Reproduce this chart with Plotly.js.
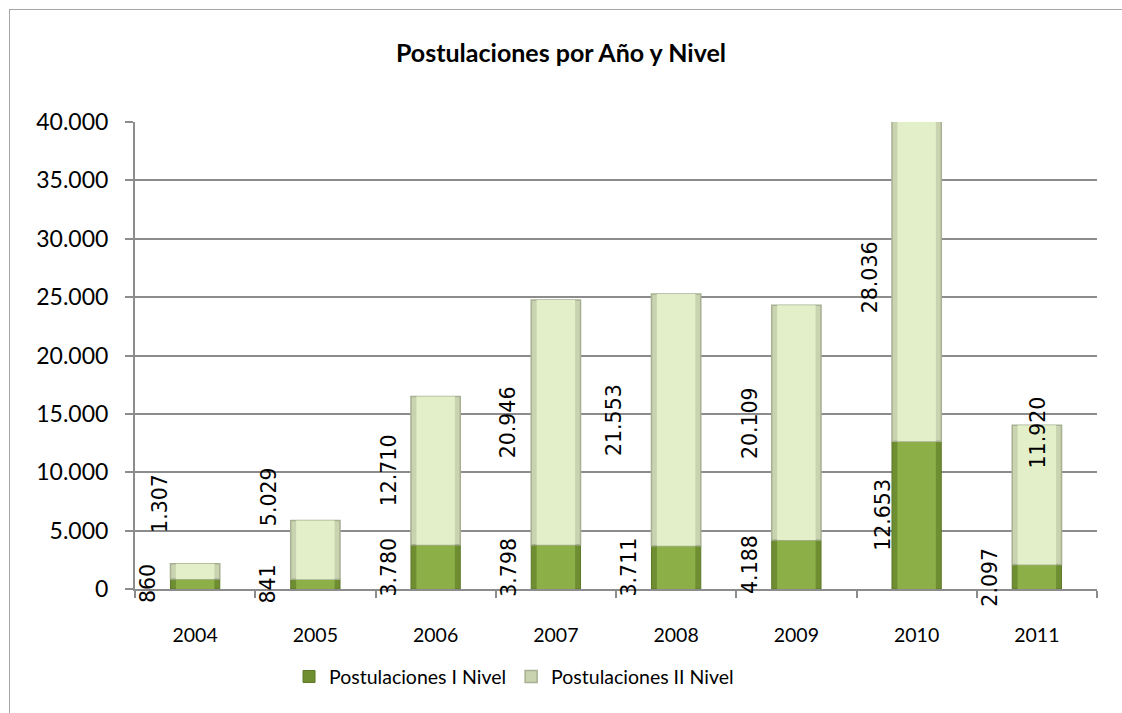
<!DOCTYPE html>
<html>
<head>
<meta charset="utf-8">
<script src="https://cdn.plot.ly/plotly-3.0.1.min.js"></script>
<style>
  html, body { margin: 0; padding: 0; overflow: hidden; background: #fff; }
  #wrap { position: relative; width: 1122px; height: 713px; }
  #chart { position: absolute; left: 0; top: 0; width: 1122px; height: 713px; }
  #frame { position: absolute; left: 9px; top: 9px; width: 1400px; height: 1000px;
           border: 1.5px solid #a6a6a6; pointer-events: none; }
</style>
</head>
<body>
<div id="wrap"><div id="chart"></div><div id="frame"></div></div>
<script>
// ---- data ----
const years = ['2004', '2005', '2006', '2007', '2008', '2009', '2010', '2011'];
const nivelI = [860, 841, 3780, 3798, 3711, 4188, 12653, 2097];
const nivelII = [1307, 5029, 12710, 20946, 21553, 20109, 28036, 11920];
const seriesNames = ['Postulaciones I Nivel', 'Postulaciones II Nivel'];
const chartTitle = 'Postulaciones por Año y Nivel';

// ---- label placement (style only: where Excel left the hand-moved labels) ----
const labelShiftPx = -47;                    // default horizontal offset of labels from bar centre
const labelNudgeI = { '2010': { dx: -33 } };
const labelNudgeII = {
  '2004': { dx: -35, y: 7300 },
  '2005': { y: 7900 },
  '2008': { dx: -62 },
  '2011': { dx: 1, y: 13400 }
};

function fmt(v) { return String(v).replace(/\B(?=(\d{3})+(?!\d))/g, '.'); }

const labelFont = { family: 'DejaVu Sans, Verdana, sans-serif', size: 20.5, color: '#000' };
const annotations = [];
years.forEach((yr, i) => {
  const nI = labelNudgeI[yr] || {};
  annotations.push({
    x: i, y: nI.y !== undefined ? nI.y : nivelI[i] / 2, xref: 'x', yref: 'y',
    text: fmt(nivelI[i]), textangle: -90, showarrow: false,
    xshift: nI.dx !== undefined ? nI.dx : labelShiftPx,
    xanchor: 'center', yanchor: 'middle', font: labelFont
  });
  const nII = labelNudgeII[yr] || {};
  annotations.push({
    x: i, y: nII.y !== undefined ? nII.y : nivelI[i] + nivelII[i] / 2, xref: 'x', yref: 'y',
    text: fmt(nivelII[i]), textangle: -90, showarrow: false,
    xshift: nII.dx !== undefined ? nII.dx : labelShiftPx,
    xanchor: 'center', yanchor: 'middle', font: labelFont
  });
});

// bevel look: darker outer bar + lighter, narrower inner face
const outerW = 0.41, innerW = 0.32;
const baseII = nivelI.slice();
const traces = [
  {
    type: 'bar', name: seriesNames[0], x: years, y: nivelI, width: outerW,
    marker: { color: '#6f8e32', line: { color: '#5c7828', width: 1 } },
    hoverinfo: 'skip', legendrank: 1
  },
  {
    type: 'bar', name: seriesNames[0], x: years, y: nivelI, width: innerW,
    marker: { color: '#8caf48', line: { width: 0 } },
    hoverinfo: 'skip', showlegend: false
  },
  {
    type: 'bar', name: seriesNames[1], x: years, y: nivelII, base: baseII, width: outerW,
    marker: { color: '#c9d3b0', line: { color: '#a7b092', width: 1.5 } },
    hoverinfo: 'skip', legendrank: 2
  },
  {
    type: 'bar', name: seriesNames[1], x: years, y: nivelII, base: baseII, width: innerW,
    marker: { color: '#e3efc8', line: { width: 0 } },
    hoverinfo: 'skip', showlegend: false
  }
];

const axisFont = 'Lato, "Open Sans", sans-serif';
const layout = {
  width: 1122, height: 713,
  paper_bgcolor: '#ffffff', plot_bgcolor: '#ffffff',
  separators: ',.',
  barmode: 'overlay',
  margin: { l: 135, r: 25, t: 122, b: 124 },
  title: {
    text: '<b>' + chartTitle + '</b>',
    x: 0.5, xref: 'container', xanchor: 'center',
    y: 1 - 53 / 713, yref: 'container', yanchor: 'middle',
    font: { family: axisFont, size: 25, color: '#000' }
  },
  xaxis: {
    type: 'category', categoryorder: 'array', categoryarray: years,
    range: [-0.5, years.length - 0.5], autorange: false,
    showline: true, linecolor: '#8c8c8c', linewidth: 2,
    ticks: 'outside', tickson: 'boundaries', ticklen: 7, tickcolor: '#8c8c8c', tickwidth: 2,
    ticklabelstandoff: 28, tickangle: 0,
    tickfont: { family: axisFont, size: 19.5, color: '#000' },
    showgrid: false, zeroline: false, fixedrange: true
  },
  yaxis: {
    range: [0, 40000], autorange: false, dtick: 5000, tick0: 0, tickformat: ',d',
    showline: true, linecolor: '#8c8c8c', linewidth: 2,
    ticks: 'outside', ticklen: 8, tickcolor: '#8c8c8c', tickwidth: 2,
    ticklabelstandoff: 12,
    showgrid: true, gridcolor: '#8c8c8c', gridwidth: 2,
    zeroline: false,
    tickfont: { family: axisFont, size: 23, color: '#000' },
    fixedrange: true
  },
  showlegend: true,
  legend: {
    orientation: 'h', x: 0.394, xanchor: 'center', y: -0.188, yanchor: 'middle',
    font: { family: axisFont, size: 19.5, color: '#000' },
    traceorder: 'normal', itemclick: false
  },
  annotations: annotations
};

Plotly.newPlot('chart', traces, layout, { displayModeBar: false, staticPlot: true });
</script>
</body>
</html>
